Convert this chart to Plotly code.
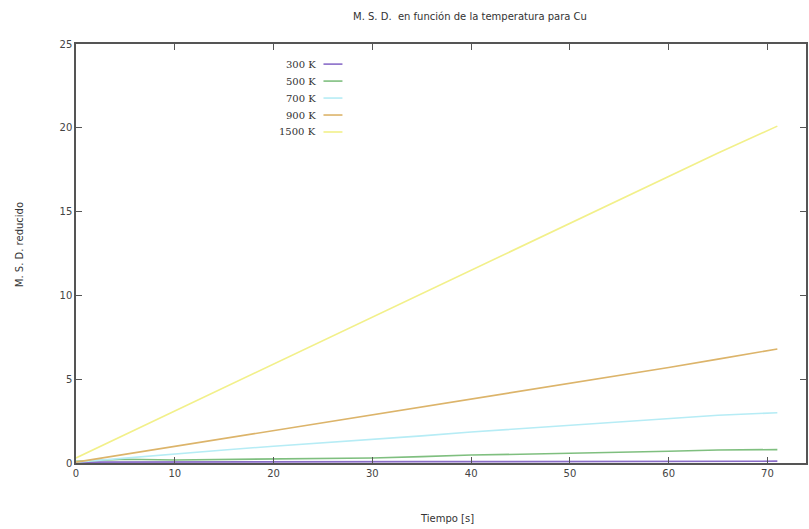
import plotly.graph_objects as go

# Time samples [s]
tiempo = [0, 5, 10, 15, 20, 25, 30, 35, 40, 45, 50, 55, 60, 65, 71]

# Reduced mean square displacement for each temperature
msd_300 = [0.05, 0.06, 0.05, 0.06, 0.07, 0.06, 0.07, 0.08, 0.08, 0.09, 0.08, 0.09, 0.10, 0.10, 0.11]
msd_500 = [0.10, 0.22, 0.18, 0.20, 0.22, 0.25, 0.30, 0.38, 0.48, 0.52, 0.56, 0.64, 0.70, 0.78, 0.80]
msd_700 = [0.05, 0.30, 0.55, 0.78, 1.00, 1.20, 1.40, 1.62, 1.85, 2.05, 2.25, 2.45, 2.65, 2.85, 3.00]
msd_900 = [0.05, 0.52, 0.98, 1.45, 1.92, 2.40, 2.86, 3.33, 3.80, 4.27, 4.75, 5.22, 5.70, 6.20, 6.80]
msd_1500 = [0.30, 1.70, 3.10, 4.50, 5.90, 7.30, 8.70, 10.10, 11.50, 12.90, 14.30, 15.70, 17.10, 18.50, 20.10]

series_names = ["300 K", "500 K", "700 K", "900 K", "1500 K"]
series_values = [msd_300, msd_500, msd_700, msd_900, msd_1500]
series_colors = ["#8a6cc8", "#7fbf7f", "#b6ecf5", "#dcb46a", "#f2f08a"]

x_ticks = [0, 10, 20, 30, 40, 50, 60, 70]
y_ticks = [0, 5, 10, 15, 20, 25]

fig = go.Figure()
for name, vals, col in zip(series_names, series_values, series_colors):
    fig.add_trace(go.Scatter(x=tiempo, y=vals, mode="lines", name=name,
                             line=dict(color=col, width=1.6), showlegend=False))

# gnuplot-style key: label on the left, sample line on the right
key_top = 0.952
key_step = 0.0405
for i, (name, col) in enumerate(zip(series_names, series_colors)):
    yk = key_top - i * key_step
    fig.add_annotation(x=0.332, y=yk, xref="paper", yref="paper", text=name,
                       showarrow=False, xanchor="right", yanchor="middle",
                       font=dict(family="DejaVu Serif", size=10, color="#333333"))
    fig.add_shape(type="line", xref="paper", yref="paper",
                  x0=0.339, x1=0.365, y0=yk, y1=yk,
                  line=dict(color=col, width=1.6))

axis_common = dict(showline=True, linecolor="#555555", linewidth=1.5, mirror="ticks",
                   ticks="inside", ticklen=6, tickcolor="#555555", tickwidth=1.2,
                   showgrid=False, zeroline=False,
                   tickfont=dict(family="DejaVu Sans", size=10, color="#444444"))

fig.update_xaxes(range=[0, 73.9], tickvals=x_ticks, **axis_common)
fig.update_yaxes(range=[0, 25], tickvals=y_ticks, **axis_common)

fig.add_annotation(x=471, y=17, xref="x domain", yref="paper", text="")
fig.layout.annotations = fig.layout.annotations[:-1]

fig.add_annotation(text="M. S. D.  en función de la temperatura para Cu",
                   x=(471 - 76) / 732, y=1 + (44 - 17) / 419, xref="paper", yref="paper",
                   showarrow=False, xanchor="center", yanchor="middle",
                   font=dict(family="DejaVu Sans", size=10, color="#333333"))
fig.add_annotation(text="Tiempo [s]",
                   x=(448 - 76) / 732, y=-(518 - 463) / 419, xref="paper", yref="paper",
                   showarrow=False, xanchor="center", yanchor="middle",
                   font=dict(family="DejaVu Sans", size=10, color="#333333"))
fig.add_annotation(text="M. S. D. reducido", textangle=-90,
                   x=-(76 - 19) / 732, y=(463 - 245) / 419, xref="paper", yref="paper",
                   showarrow=False, xanchor="center", yanchor="middle",
                   font=dict(family="DejaVu Sans", size=10, color="#333333"))

fig.update_layout(width=809, height=529,
                  margin=dict(l=76, r=1, t=44, b=66),
                  paper_bgcolor="white", plot_bgcolor="white",
                  showlegend=False)

fig.write_html("out.html")
